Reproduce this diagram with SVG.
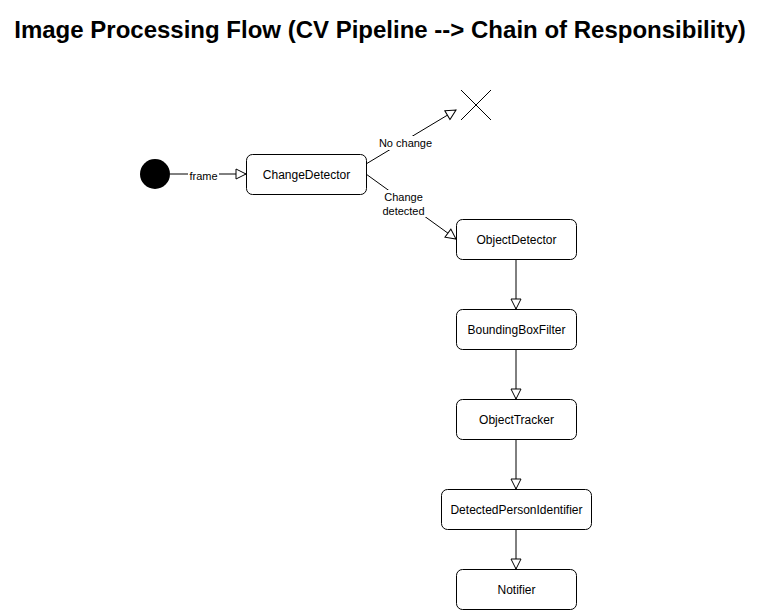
<svg xmlns="http://www.w3.org/2000/svg" width="760" height="610" viewBox="0 0 760 610">
<defs>
<style>
.node{fill:#fff;stroke:#000;stroke-width:1}
.nt{font-family:"Liberation Sans",Arial,sans-serif;font-size:12px;fill:#000;text-anchor:middle}
.el{font-family:"Liberation Sans",Arial,sans-serif;font-size:11px;fill:#000;text-anchor:middle}
.edge{fill:none;stroke:#000;stroke-width:1}
.lbg{fill:#fff}
</style>
<marker id="arr" markerWidth="12" markerHeight="12" refX="10" refY="5" orient="auto" markerUnits="userSpaceOnUse" viewBox="-1 -1 12 12">
<path d="M0,0 L10,5 L0,10 Z" fill="#fff" stroke="#000" stroke-width="1"/>
</marker>
</defs>
<rect width="760" height="610" fill="#fff"/>
<text x="380" y="38" font-family="'Liberation Sans',Arial,sans-serif" font-size="24" font-weight="bold" text-anchor="middle">Image Processing Flow (CV Pipeline --&gt; Chain of Responsibility)</text>
<g id="connectors">
<line class="edge" x1="170" y1="174" x2="246" y2="174" marker-end="url(#arr)"/>
<rect class="lbg" x="188" y="168" width="31" height="13"/>
<text class="el" x="203.5" y="180">frame</text>
<line class="edge" x1="366" y1="164" x2="456" y2="110" marker-end="url(#arr)"/>
<rect class="lbg" x="377" y="136" width="57" height="14"/>
<text class="el" x="405.5" y="147">No change</text>
<line class="edge" x1="366" y1="174" x2="456" y2="239" marker-end="url(#arr)"/>
<rect class="lbg" x="380" y="190" width="47" height="27"/>
<text class="el" x="403.5" y="201">Change</text>
<text class="el" x="403.5" y="215">detected</text>
<line class="edge" x1="516" y1="259" x2="516" y2="309" marker-end="url(#arr)"/>
<line class="edge" x1="516" y1="349" x2="516" y2="399" marker-end="url(#arr)"/>
<line class="edge" x1="516" y1="439" x2="516" y2="489" marker-end="url(#arr)"/>
<line class="edge" x1="516" y1="529" x2="516" y2="569" marker-end="url(#arr)"/>
</g>
<g id="start"><circle cx="155" cy="174" r="15" fill="#000"/></g>
<g id="end"><line class="edge" x1="461" y1="90" x2="491" y2="120"/><line class="edge" x1="491" y1="90" x2="461" y2="120"/></g>
<g id="ChangeDetector"><rect class="node" x="246.5" y="154.5" width="120" height="40" rx="6"/><text class="nt" x="306.5" y="178.5">ChangeDetector</text></g>
<g id="ObjectDetector"><rect class="node" x="456.5" y="219.5" width="120" height="40" rx="6"/><text class="nt" x="516.5" y="243.5">ObjectDetector</text></g>
<g id="BoundingBoxFilter"><rect class="node" x="456.5" y="309.5" width="120" height="40" rx="6"/><text class="nt" x="516.5" y="333.5">BoundingBoxFilter</text></g>
<g id="ObjectTracker"><rect class="node" x="456.5" y="399.5" width="120" height="40" rx="6"/><text class="nt" x="516.5" y="423.5">ObjectTracker</text></g>
<g id="DetectedPersonIdentifier"><rect class="node" x="441.5" y="489.5" width="150" height="40" rx="6"/><text class="nt" x="516.5" y="513.5">DetectedPersonIdentifier</text></g>
<g id="Notifier"><rect class="node" x="456.5" y="569.5" width="120" height="40" rx="6"/><text class="nt" x="516.5" y="593.5">Notifier</text></g>
</svg>
